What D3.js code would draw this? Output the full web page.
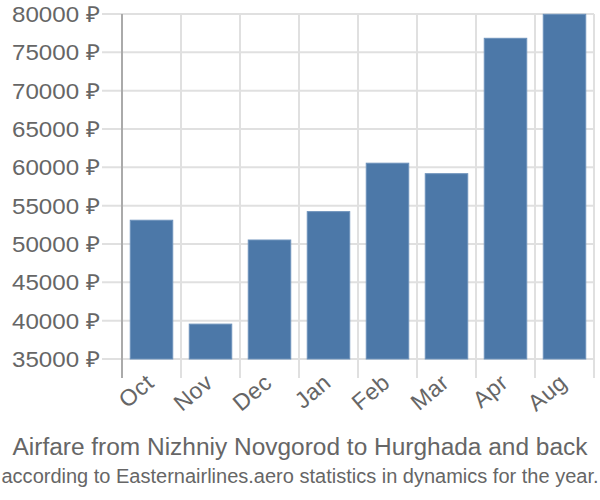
<!DOCTYPE html>
<html><head><meta charset="utf-8">
<script src="https://cdn.jsdelivr.net/npm/d3@7"></script>
<style>body{margin:0;background:#fff}svg{display:block}</style>
</head><body>
<svg id="c" width="600" height="500"></svg>
<script>
const months = ["Oct","Nov","Dec","Jan","Feb","Mar","Apr","Aug"];
const prices = [53100, 39550, 50520, 54220, 60540, 59170, 76830, 79960];
const yTicks = [35000,40000,45000,50000,55000,60000,65000,70000,75000,80000];
const title = "Airfare from Nizhniy Novgorod to Hurghada and back";
const subtitle = "according to Easternairlines.aero statistics in dynamics for the year.";

const svg = d3.select("#c");
const font = "'Liberation Sans', Arial, sans-serif";
const x = d3.scaleBand().domain(months).range([122, 594]).paddingInner(0.28).paddingOuter(0.14);
const y = d3.scaleLinear().domain([35000, 80000]).range([359, 14]);

// horizontal grid
svg.append("g").selectAll("line").data(yTicks).join("line")
  .attr("x1", 102).attr("x2", 594)
  .attr("y1", d => y(d)).attr("y2", d => y(d))
  .attr("stroke", "#e0e0e0").attr("stroke-width", 2);
// vertical grid
const vx = months.map(m => x(m) - x.step()*0.14).concat([594]);
svg.append("g").selectAll("line").data(vx).join("line")
  .attr("x1", d => d).attr("x2", d => d)
  .attr("y1", 14).attr("y2", 378)
  .attr("stroke", "#e0e0e0").attr("stroke-width", 2);
// left axis line
svg.append("line").attr("x1",122).attr("x2",122).attr("y1",14).attr("y2",378)
  .attr("stroke","#aaaaaa").attr("stroke-width",2);

// bars
svg.append("g").selectAll("rect").data(prices).join("rect")
  .attr("x", (d,i) => x(months[i]))
  .attr("width", x.bandwidth())
  .attr("y", d => y(d))
  .attr("height", d => y(35000) - y(d))
  .attr("fill", "#4c78a8").attr("stroke", "#6d92bb").attr("stroke-width", 1);

// y labels
svg.append("g").selectAll("text").data(yTicks).join("text")
  .attr("x", 100).attr("y", d => y(d)).attr("dy", "0.36em")
  .attr("text-anchor", "end").attr("font-family", font).attr("font-size", 22)
  .attr("textLength", 88).attr("lengthAdjust", "spacingAndGlyphs")
  .attr("fill", "#666").text(d => d + " ₽");

// x labels
svg.append("g").selectAll("text").data(months).join("text")
  .attr("transform", m => `translate(${x(m)+x.bandwidth()/2+4},${385}) rotate(-40)`)
  .attr("text-anchor", "end").attr("font-family", font).attr("font-size", 23)
  .attr("letter-spacing", 0.5)
  .attr("fill", "#666").text(m => m);

svg.append("text").attr("x", 300).attr("y", 455).attr("text-anchor","middle")
  .attr("font-family", font).attr("font-size", 23).attr("fill","#666")
  .attr("textLength", 575).attr("lengthAdjust","spacingAndGlyphs").text(title);
svg.append("text").attr("x", 300).attr("y", 483).attr("text-anchor","middle")
  .attr("font-family", font).attr("font-size", 20).attr("fill","#666")
  .attr("textLength", 597).attr("lengthAdjust","spacingAndGlyphs").text(subtitle);
</script>
</body></html>
